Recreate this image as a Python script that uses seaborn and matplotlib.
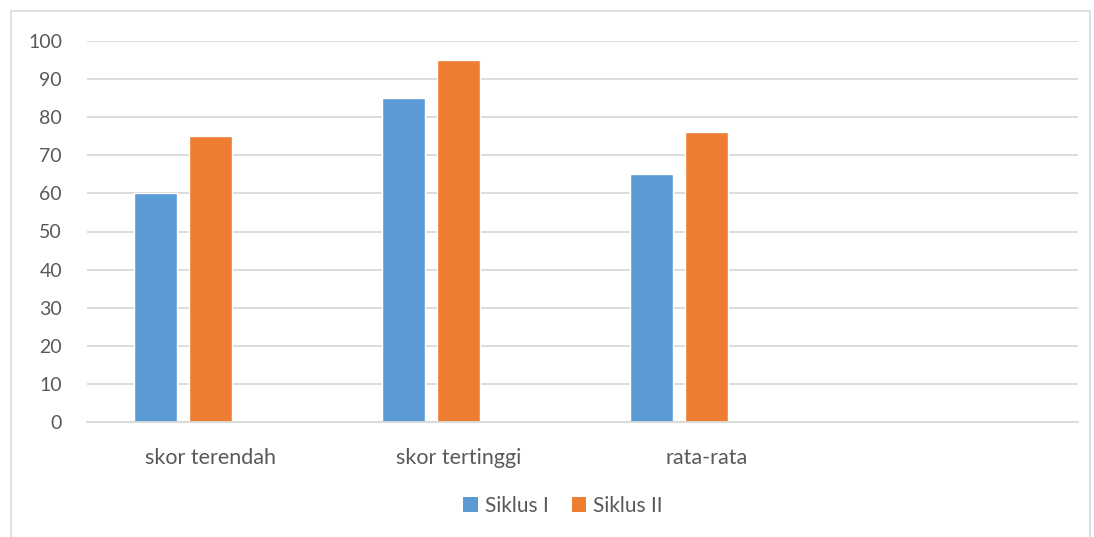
import matplotlib
matplotlib.use("Agg")
import matplotlib.pyplot as plt
from matplotlib.patches import Patch, Rectangle
import seaborn as sns
import pandas as pd

categories = ["skor terendah", "skor tertinggi", "rata-rata"]
siklus_1 = [60, 85, 65]
siklus_2 = [75, 95, 76]
series_names = ["Siklus I", "Siklus II"]
y_ticks = [0, 10, 20, 30, 40, 50, 60, 70, 80, 90, 100]

df = pd.DataFrame({
    "kategori": categories * 2,
    "nilai": siklus_1 + siklus_2,
    "seri": [series_names[0]] * 3 + [series_names[1]] * 3,
})

sns.set_theme(style="white")
plt.rcParams["font.family"] = ["Lato", "DejaVu Sans"]

text_col = "#595959"
grid_col = "#d9d9d9"
palette = {"Siklus I": "#5B9BD5", "Siklus II": "#ED7D31", " ": "#A5A5A5"}

W, H = 1094, 537
fig = plt.figure(figsize=(W / 100, H / 100), dpi=100)
ax = fig.add_axes([87 / W, (H - 422) / H, (1078 - 87) / W, (422 - 41) / H])

order = categories + [""]
sns.barplot(data=df, x="kategori", y="nilai", hue="seri",
            order=order, hue_order=series_names + [" "],
            palette=palette, width=0.666, gap=0.22, legend=False,
            saturation=1, ax=ax, errorbar=None)

ax.set_xlim(-0.5, 3.5)
ax.set_ylim(0, 100)
ax.set_yticks(y_ticks)
ax.set_yticklabels([str(v) for v in y_ticks])
ax.yaxis.grid(True, color=grid_col, linewidth=1.3)
ax.set_axisbelow(True)
for s in ["top", "right", "left"]:
    ax.spines[s].set_visible(False)
ax.spines["bottom"].set_color(grid_col)
ax.spines["bottom"].set_linewidth(1.3)
ax.tick_params(axis="y", length=0, pad=18, labelsize=14, labelcolor=text_col)
ax.tick_params(axis="x", length=0, pad=19, labelsize=15.5, labelcolor=text_col)
ax.set_xlabel("")
ax.set_ylabel("")

handles = [Patch(facecolor=palette[n], edgecolor="none") for n in series_names]
fig.legend(handles, series_names, loc="center", bbox_to_anchor=(563 / W, 1 - 506 / H),
           ncol=2, frameon=False, fontsize=15, labelcolor=text_col,
           handlelength=0.7, handleheight=0.7, handletextpad=0.35, columnspacing=1.1)

frame = Rectangle((11 / W, -0.05), (1090 - 11) / W, 1 - 11 / H + 0.05,
                  transform=fig.transFigure, fill=False, edgecolor=grid_col, linewidth=1.2)
fig.patches.append(frame)

fig.savefig("out.png", dpi=100, facecolor="white")
